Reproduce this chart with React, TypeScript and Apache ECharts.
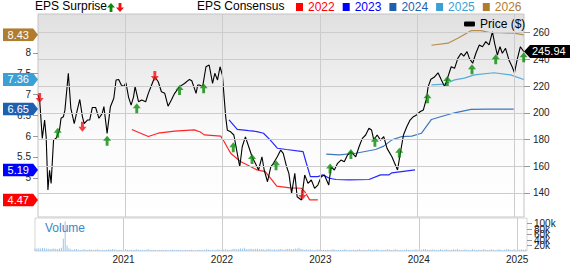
import React, { useEffect, useRef } from "react";
import * as echarts from "echarts";

const FONT = 'Arial, "Liberation Sans", Helvetica, sans-serif';

// ---------- axes ----------
const xRange = [2020.1, 2025.1];
const yearLabels = [2021, 2022, 2023, 2024, 2025];
const epsRange = [4.06, 8.93];
const epsTicks = [5, 5.5, 6, 6.5, 7, 7.5, 8];
const priceRange = [122, 274];
const priceTicks = [140, 160, 180, 200, 220, 240, 260];
const volumeMax = 120000;
const volumeTicks = [0, 20000, 40000, 60000, 80000, 100000, 120000];

// ---------- price (decimal year, $) ----------
const price: [number, number][] = [
  [2020.100, 213.3], [2020.117, 209.6], [2020.144, 180.9], [2020.168, 194.6], [2020.184, 182.0], [2020.202, 142.2], [2020.219, 157.0], [2020.235, 147.2], [2020.260, 179.6], [2020.286, 181.0],
  [2020.321, 187.0], [2020.337, 195.9], [2020.361, 197.0], [2020.377, 202.0], [2020.412, 229.6], [2020.438, 203.4], [2020.473, 192.0], [2020.496, 199.6], [2020.530, 210.0], [2020.557, 197.0],
  [2020.575, 192.0], [2020.608, 194.6], [2020.632, 194.6], [2020.659, 204.0], [2020.693, 204.0], [2020.727, 195.9], [2020.761, 199.6], [2020.778, 204.6], [2020.811, 184.6], [2020.845, 204.6],
  [2020.880, 210.9], [2020.903, 224.6], [2020.930, 225.0], [2020.957, 220.8], [2020.981, 219.6], [2021.005, 222.5], [2021.032, 211.6], [2021.058, 205.8], [2021.083, 212.0], [2021.099, 219.6],
  [2021.134, 208.3], [2021.167, 209.6], [2021.208, 208.3], [2021.235, 214.6], [2021.269, 220.8], [2021.302, 227.0], [2021.337, 223.3], [2021.370, 215.8], [2021.404, 214.6], [2021.438, 205.0],
  [2021.472, 209.6], [2021.506, 214.6], [2021.556, 219.6], [2021.607, 222.0], [2021.658, 225.0], [2021.682, 224.0], [2021.703, 219.6], [2021.726, 214.6], [2021.743, 220.8], [2021.760, 220.8],
  [2021.794, 219.6], [2021.828, 234.5], [2021.861, 235.8], [2021.896, 222.0], [2021.919, 229.6], [2021.947, 224.6], [2021.973, 234.5], [2021.997, 228.3], [2022.031, 197.0], [2022.048, 187.0],
  [2022.082, 185.8], [2022.115, 183.4], [2022.150, 169.7], [2022.176, 159.6], [2022.201, 174.6], [2022.234, 182.0], [2022.268, 174.6], [2022.302, 167.1], [2022.336, 162.2], [2022.369, 157.2],
  [2022.404, 167.1], [2022.427, 157.2], [2022.461, 148.4], [2022.495, 159.6], [2022.522, 162.2], [2022.562, 167.1], [2022.597, 172.1], [2022.623, 169.7], [2022.658, 159.6], [2022.681, 154.7],
  [2022.709, 139.7], [2022.742, 154.7], [2022.766, 137.2], [2022.810, 134.7], [2022.844, 153.4], [2022.878, 147.2], [2022.912, 149.7], [2022.946, 143.4], [2022.979, 145.9], [2023.014, 152.2],
  [2023.047, 153.4], [2023.091, 145.9], [2023.115, 159.6], [2023.149, 157.2], [2023.182, 162.2], [2023.217, 164.6], [2023.251, 163.4], [2023.284, 168.4], [2023.319, 170.9], [2023.369, 167.1],
  [2023.403, 174.6], [2023.437, 180.9], [2023.471, 183.4], [2023.505, 188.4], [2023.532, 187.1], [2023.555, 179.6], [2023.589, 183.4], [2023.624, 179.6], [2023.657, 182.1], [2023.691, 173.4],
  [2023.741, 167.1], [2023.799, 157.2], [2023.827, 169.7], [2023.860, 183.4], [2023.894, 189.6], [2023.928, 194.6], [2023.962, 197.1], [2023.995, 198.4], [2024.030, 200.8], [2024.064, 202.1],
  [2024.097, 210.9], [2024.114, 219.6], [2024.142, 225.1], [2024.175, 226.6], [2024.216, 230.0], [2024.250, 224.6], [2024.284, 219.6], [2024.318, 227.1], [2024.351, 234.5], [2024.386, 233.3],
  [2024.419, 240.8], [2024.453, 244.6], [2024.480, 242.5], [2024.514, 245.8], [2024.538, 240.8], [2024.572, 237.1], [2024.605, 244.6], [2024.640, 250.8], [2024.673, 249.5], [2024.707, 253.3],
  [2024.741, 250.8], [2024.775, 260.7], [2024.798, 252.0], [2024.826, 243.3], [2024.853, 249.5], [2024.877, 244.6], [2024.910, 248.3], [2024.945, 239.6], [2024.978, 234.5], [2025.002, 230.0],
  [2025.029, 239.6], [2025.063, 249.5], [2025.097, 245.94],
];
const lastPrice = 245.94;

// ---------- EPS consensus by fiscal year ----------
const consensusYears = ["2022", "2023", "2024", "2025", "2026"];
const consensusLast = [4.47, 5.19, 6.65, 7.36, 8.43];
const cons2022: [number, number][] = [
  [2021.065, 6.16], [2021.235, 5.99], [2021.337, 6.07], [2021.506, 6.12], [2021.709, 6.15], [2021.770, 6.10], [2021.810, 6.03], [2021.980, 6.00],
  [2022.014, 5.87], [2022.082, 5.59], [2022.183, 5.39], [2022.285, 5.27], [2022.353, 5.19], [2022.437, 5.15], [2022.506, 4.95], [2022.556, 4.80],
  [2022.692, 4.76], [2022.810, 4.75], [2022.844, 4.67], [2022.895, 4.47], [2022.979, 4.47],
];
const cons2023: [number, number][] = [
  [2022.065, 6.39], [2022.150, 6.16], [2022.268, 6.13], [2022.353, 6.11], [2022.420, 6.07], [2022.488, 5.91], [2022.562, 5.71], [2022.658, 5.68],
  [2022.827, 5.63], [2022.861, 5.35], [2022.902, 5.03], [2022.979, 5.03], [2023.030, 5.07], [2023.098, 4.99], [2023.166, 4.96], [2023.301, 4.95],
  [2023.505, 4.96], [2023.624, 5.07], [2023.708, 5.07], [2023.741, 5.12], [2023.979, 5.19],
];
const cons2024: [number, number][] = [
  [2023.065, 5.57], [2023.200, 5.55], [2023.369, 5.59], [2023.573, 5.68], [2023.657, 5.76], [2023.741, 5.91], [2023.843, 5.99], [2023.945, 6.00],
  [2024.046, 6.07], [2024.148, 6.40], [2024.250, 6.47], [2024.386, 6.56], [2024.555, 6.64], [2024.724, 6.65], [2024.995, 6.65],
];
const cons2025: [number, number][] = [
  [2024.148, 7.23], [2024.284, 7.25], [2024.386, 7.35], [2024.487, 7.39], [2024.589, 7.47], [2024.792, 7.52], [2024.961, 7.47], [2025.097, 7.36],
];
const cons2026: [number, number][] = [
  [2024.148, 8.18], [2024.318, 8.23], [2024.419, 8.35], [2024.555, 8.53], [2024.656, 8.53], [2024.758, 8.48], [2024.860, 8.48], [2024.995, 8.47], [2025.097, 8.43],
];
const consensusData = [cons2022, cons2023, cons2024, cons2025, cons2026];

// ---------- EPS surprises (decimal year, price level of marker) ----------
const beats: [number, number][] = [
  [2020.303, 185.1], [2020.811, 179.1], [2021.116, 203.4], [2021.556, 217.1], [2021.804, 218.4], [2022.109, 174.2], [2022.302, 165.4], [2022.549, 160.7],
  [2023.105, 158.4], [2023.319, 169.1], [2023.566, 178.4], [2023.817, 170.1], [2024.107, 210.9], [2024.311, 223.8], [2024.565, 232.6], [2024.809, 240.1], [2025.097, 241.6],
];
const misses: [number, number][] = [
  [2020.117, 211.1], [2020.557, 189.6], [2021.302, 227.6], [2022.820, 138.4],
];

// ---------- weekly volume (thousands), first week at start of range ----------
const volumeStart = 2020.1;
const volumeWeek = 7 / 365.25;
const volumeK = [
  8, 9, 10, 9, 11, 10, 9, 8, 7, 8, 9, 8, 7, 9, 12, 45, 107, 20, 10,
  6, 5, 6, 7, 5, 4, 5, 6, 5, 4, 6, 5, 4, 5, 6, 5, 4, 5, 4, 5, 6, 5, 7, 6, 5, 4, 5, 4, 5, 6, 5, 4, 5, 4, 5, 6, 5, 4, 5, 4, 5, 6,
  5, 4, 5, 4, 3, 4, 5, 4, 5, 4, 3, 4, 5, 4, 4, 5, 4, 3, 4, 5, 4, 4, 5, 4, 3, 4, 5, 4, 4, 5, 6, 5, 4, 5, 4, 5, 6, 5, 4, 5, 6, 5, 4, 5,
  7, 8, 6, 7, 9, 8, 12, 7, 6, 8, 7, 6, 7, 8, 6, 7, 6, 5, 6, 7, 6,
  5, 6, 5, 6, 7, 6, 5, 6, 7, 8, 6, 7, 9, 8, 12, 7, 6, 5, 6, 5, 6, 5, 4, 5, 6,
  5, 4, 5, 4, 5, 4, 5, 6, 5, 4, 5, 4, 5, 6, 5, 4, 5, 4, 5, 4, 5, 6, 5, 4, 5, 4, 6, 5, 4, 5, 6, 5, 4, 5, 4, 5, 6, 5, 4, 5, 6, 5, 4, 5, 4, 5, 6, 5, 4, 5,
  5, 6, 5, 4, 5, 6, 7, 5, 4, 5, 6, 5, 4, 5, 6, 5, 4, 6, 5, 4, 5, 6, 5, 7, 5, 4, 5, 6, 5, 4, 5, 6, 5, 4, 5, 4, 5, 6, 5, 4, 5, 6, 5, 4, 5, 6, 5, 4, 5, 6, 7, 5, 4, 6, 5, 4, 5, 6, 5, 6,
];

// ---------- styles ----------
const consensusColors = ["#ff0000", "#0000ff", "#1f5fb0", "#3aa0d5", "#b07c30"];
const beatColor = "#0a8a0a";
const missColor = "#ee1111";
const gridColor = "#cccccc";
const upArrow = "path://M5,0 L10,5 L6.8,5 L6.8,10 L3.2,10 L3.2,5 L0,5 Z";
const downArrow = "path://M3.2,0 L6.8,0 L6.8,5 L10,5 L5,10 L0,5 L3.2,5 Z";

function tagImage(color: string, dir: "right" | "left", w: number, h: number) {
  const pts =
    dir === "right"
      ? `0,0 ${w - 5},0 ${w},${h / 2} ${w - 5},${h} 0,${h}`
      : `0,${h / 2} 6,0 ${w},0 ${w},${h} 6,${h}`;
  const svg = `<svg xmlns="http://www.w3.org/2000/svg" width="${w}" height="${h}" viewBox="0 0 ${w} ${h}" preserveAspectRatio="none"><polygon points="${pts}" fill="${color}"/></svg>`;
  return "data:image/svg+xml;charset=utf-8," + encodeURIComponent(svg);
}

const Y_EPS = 0;
const Y_PRICE = 1;
const Y_VOLUME = 4;

export default function App() {
  const ref = useRef<HTMLDivElement>(null);

  useEffect(() => {
    if (!ref.current) return;
    const chart = echarts.init(ref.current, null, { renderer: "svg" });

    const tagRich: Record<string, any> = {};
    consensusLast.forEach((_, i) => {
      tagRich["t" + i] = {
        color: "#fff",
        fontSize: 11,
        fontFamily: FONT,
        lineHeight: 13,
        width: 22,
        padding: [1, 9, 1, 4],
        backgroundColor: { image: tagImage(consensusColors[i], "right", 35, 15) },
      };
    });

    const volumeData = volumeK.map((v, i) => [volumeStart + i * volumeWeek, v * 1000]);

    const lineMark = (data: any[]) => ({
      silent: true,
      symbol: ["none", "none"],
      label: { show: false },
      lineStyle: { color: gridColor, type: "solid", width: 1 },
      data,
    });

    const axisLabelBase = { fontSize: 10, color: "#222", fontFamily: FONT };

    chart.setOption({
      animation: false,
      backgroundColor: "#ffffff",
      textStyle: { fontFamily: FONT },
      title: [
        { text: "EPS Surprise", left: 35, top: 0, padding: 0, textStyle: { fontSize: 12, fontWeight: "normal", color: "#000", fontFamily: FONT } },
        { text: "EPS Consensus", left: 197, top: 0, padding: 0, textStyle: { fontSize: 12, fontWeight: "normal", color: "#000", fontFamily: FONT } },
        { text: "Volume", left: 45, top: 222, padding: 0, textStyle: { fontSize: 12, fontWeight: "normal", color: "#3a87c8", fontFamily: FONT } },
      ],
      legend: [
        {
          left: 296,
          top: 1,
          padding: 0,
          itemGap: 8,
          itemWidth: 7,
          itemHeight: 8,
          icon: "rect",
          selectedMode: false,
          textStyle: { fontSize: 12, fontFamily: FONT },
          data: consensusYears.map((y, i) => ({ name: y, textStyle: { color: consensusColors[i] } })),
        },
        {
          left: 464,
          top: 18,
          padding: 0,
          itemWidth: 11,
          itemHeight: 5,
          icon: "roundRect",
          selectedMode: false,
          textStyle: { fontSize: 12, color: "#000", fontFamily: FONT },
          data: ["Price ($)"],
        },
      ],
      graphic: [
        { type: "polygon", shape: { points: [[111, 3], [115, 7.5], [112.4, 7.5], [112.4, 12], [109.6, 12], [109.6, 7.5], [107, 7.5]] }, style: { fill: beatColor } },
        { type: "polygon", shape: { points: [[118.6, 3], [121.4, 3], [121.4, 7.5], [124, 7.5], [120, 12], [116, 7.5], [118.6, 7.5]] }, style: { fill: missColor } },
      ],
      grid: [
        {
          left: 35,
          top: 14,
          width: 492,
          height: 203,
          show: true,
          borderColor: "#c4c4c4",
          borderWidth: 1,
          backgroundColor: new echarts.graphic.LinearGradient(0, 0, 0, 1, [
            { offset: 0, color: "#e0e0e0" },
            { offset: 0.6, color: "#fbfbfb" },
            { offset: 1, color: "#ffffff" },
          ]),
        },
        {
          left: 35,
          top: 218,
          width: 492,
          height: 35,
          show: true,
          borderColor: "#d4d4d4",
          borderWidth: 1,
          backgroundColor: "#ffffff",
        },
      ],
      xAxis: [
        {
          type: "value",
          gridIndex: 0,
          min: xRange[0],
          max: xRange[1],
          axisLine: { show: false },
          axisTick: { show: false },
          axisLabel: { show: false },
          splitLine: { show: false },
        },
        {
          type: "value",
          gridIndex: 1,
          min: xRange[0],
          max: xRange[1],
          axisLine: { show: false, onZero: false },
          axisTick: { show: false },
          splitLine: { show: false },
          axisLabel: {
            ...axisLabelBase,
            margin: 3,
            customValues: yearLabels,
            formatter: (v: number) => String(Math.round(v)),
          },
        },
      ],
      yAxis: [
        {
          type: "value",
          gridIndex: 0,
          position: "left",
          min: epsRange[0],
          max: epsRange[1],
          axisLine: { show: false },
          splitLine: { show: false },
          axisTick: { show: true, customValues: epsTicks, length: 5, lineStyle: { color: "#999" } },
          axisLabel: {
            ...axisLabelBase,
            margin: 7,
            customValues: epsTicks,
            formatter: (v: number) => String(v),
          },
        },
        {
          type: "value",
          gridIndex: 0,
          position: "right",
          min: priceRange[0],
          max: priceRange[1],
          axisLine: { show: false },
          splitLine: { show: false },
          axisTick: { show: true, customValues: priceTicks, length: 6, lineStyle: { color: "#999" } },
          axisLabel: {
            ...axisLabelBase,
            margin: 9,
            customValues: priceTicks,
            formatter: (v: number) => String(v),
          },
        },
        {
          type: "value",
          gridIndex: 0,
          position: "left",
          min: epsRange[0],
          max: epsRange[1],
          axisLine: { show: false },
          splitLine: { show: false },
          axisTick: { show: false },
          axisLabel: {
            margin: 0,
            customValues: consensusLast,
            rich: tagRich,
            formatter: (v: number) => {
              const i = consensusLast.findIndex((c) => Math.abs(c - v) < 1e-6);
              return `{t${i}|${v.toFixed(2)}}`;
            },
          },
        },
        {
          type: "value",
          gridIndex: 0,
          position: "right",
          min: priceRange[0],
          max: priceRange[1],
          axisLine: { show: false },
          splitLine: { show: false },
          axisTick: { show: false },
          axisLabel: {
            margin: 0,
            customValues: [lastPrice],
            rich: {
              last: {
                color: "#fff",
                fontSize: 11,
                fontFamily: FONT,
                lineHeight: 13,
                width: 34,
                padding: [1, 4, 1, 8],
                backgroundColor: { image: tagImage("#000000", "left", 46, 15) },
              },
            },
            formatter: (v: number) => `{last|${v.toFixed(2)}}`,
          },
        },
        {
          type: "value",
          gridIndex: 1,
          position: "right",
          min: 0,
          max: volumeMax,
          axisLine: { show: false },
          splitLine: { show: false },
          axisTick: { show: true, customValues: volumeTicks, length: 5, lineStyle: { color: "#999" } },
          axisLabel: {
            ...axisLabelBase,
            margin: 7,
            hideOverlap: false,
            customValues: volumeTicks,
            formatter: (v: number) => (v === 0 ? "0" : `${Math.round(v / 1000)}k`),
          },
        },
      ],
      series: [
        {
          name: "gridPrice",
          type: "line",
          xAxisIndex: 0,
          yAxisIndex: Y_PRICE,
          z: 1,
          data: [[xRange[0], priceRange[0]]],
          showSymbol: false,
          symbolSize: 0,
          lineStyle: { width: 0, opacity: 0 },
          markLine: lineMark([
            ...priceTicks.map((p) => ({ yAxis: p })),
            ...yearLabels.map((y) => ({ xAxis: y })),
          ]),
        },
        {
          name: "gridVolume",
          type: "line",
          xAxisIndex: 1,
          yAxisIndex: Y_VOLUME,
          z: 1,
          data: [[xRange[0], 0]],
          showSymbol: false,
          symbolSize: 0,
          lineStyle: { width: 0, opacity: 0 },
          markLine: lineMark(yearLabels.map((y) => ({ xAxis: y }))),
        },
        {
          name: "Volume",
          type: "bar",
          xAxisIndex: 1,
          yAxisIndex: Y_VOLUME,
          z: 2,
          barWidth: 1,
          itemStyle: { color: "#9ec4e8" },
          data: volumeData,
        },
        ...consensusYears.map((y, i) => ({
          name: y,
          type: "line",
          xAxisIndex: 0,
          yAxisIndex: Y_EPS,
          z: 3,
          color: consensusColors[i],
          showSymbol: false,
          symbol: "none",
          lineStyle: { width: 1.2, color: consensusColors[i], opacity: 0.85 },
          data: consensusData[i],
        })),
        {
          name: "Price ($)",
          type: "line",
          xAxisIndex: 0,
          yAxisIndex: Y_PRICE,
          z: 4,
          color: "#000",
          showSymbol: false,
          symbol: "none",
          lineStyle: { width: 1.1, color: "#000" },
          data: price,
        },
        {
          name: "Beat",
          type: "scatter",
          xAxisIndex: 0,
          yAxisIndex: Y_PRICE,
          z: 5,
          symbol: upArrow,
          symbolSize: [8, 10],
          itemStyle: { color: beatColor },
          data: beats,
        },
        {
          name: "Miss",
          type: "scatter",
          xAxisIndex: 0,
          yAxisIndex: Y_PRICE,
          z: 5,
          symbol: downArrow,
          symbolSize: [8, 10],
          itemStyle: { color: missColor },
          data: misses,
        },
      ],
    });

    return () => chart.dispose();
  }, []);

  return (
    <div
      ref={ref}
      style={{ position: "fixed", left: 0, top: 0, width: 573, height: 264, background: "#fff" }}
    />
  );
}
